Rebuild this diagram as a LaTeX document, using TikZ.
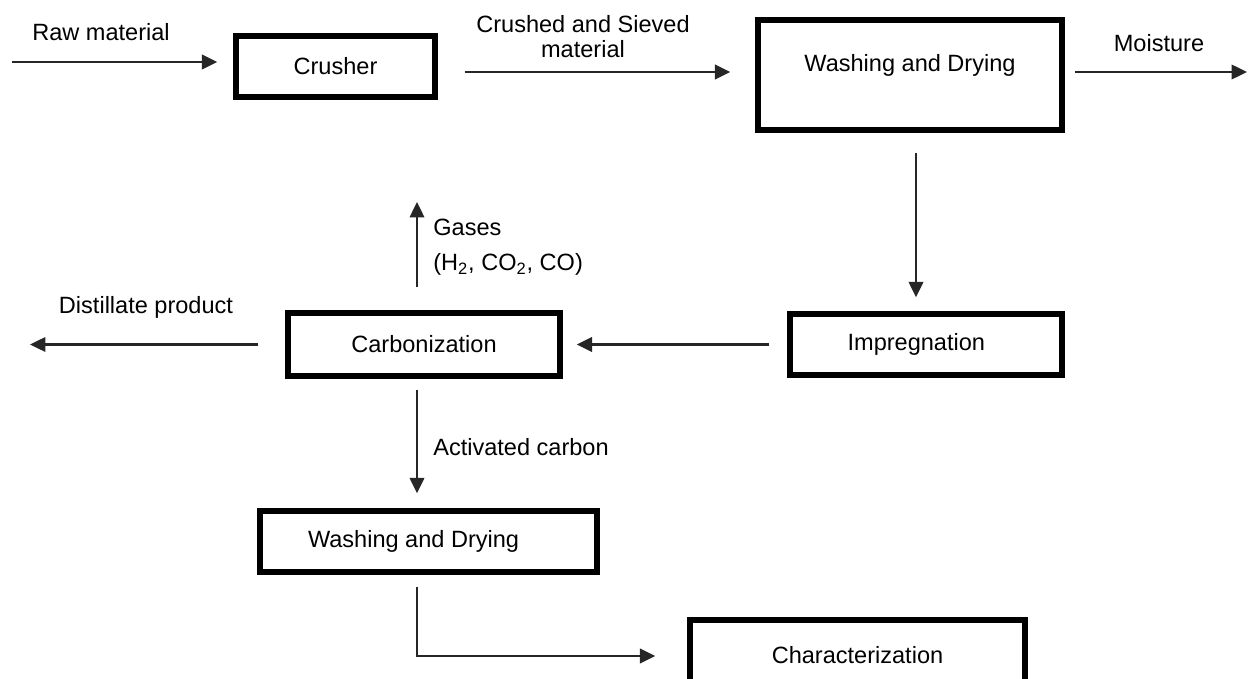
\documentclass[tikz,border=0pt]{standalone}
\usepackage{fontspec}
\setmainfont{Liberation Sans}
\usetikzlibrary{arrows.meta}

\begin{document}
\begin{tikzpicture}[x=0.02cm,y=-0.02cm,>={Triangle[length=0.31cm,width=0.29cm]},
    box/.style={shape=rectangle,draw,line width=3.1pt,inner sep=0pt,font=\fontsize{13.4}{16}\selectfont},
    flow/.style={->,draw=black!85,line width=1.4pt},
    lbl/.style={inner sep=0pt,font=\fontsize{13.4}{14.2}\selectfont},]
    \useasboundingbox (0,0) rectangle (1249,679);
    \clip (0,0) rectangle (1249,679);
		    % create the nodes
			    \node[box,minimum width=3.98cm,minimum height=1.22cm] (crusher) at (335.5,66.5) {Crusher};
			    \node[box,minimum width=6.08cm,minimum height=2.2cm,text depth=14pt] (wash1) at (910,75) {Washing and Drying}; %first wash
			    \node[box,minimum width=5.44cm,minimum height=1.22cm] (impreg) at (926,344.5) {Impregnation\hspace*{11pt}};
			    \node[box,minimum width=5.44cm,minimum height=1.26cm] (carbon) at (424,344.5) {Carbonization};
			    \node[box,minimum width=6.74cm,minimum height=1.22cm] (wash2) at (428.5,541.5) {Washing and Drying\hspace*{17pt}}; %second wash
			    \node[box,minimum width=6.7cm,minimum height=1.4cm] (charact) at (857.5,655) {Characterization};
		    % the labels
			    \node[lbl] (rawlbl) at (101,32) {Raw material};
			    \node[lbl,align=center] (crushlbl) at (583,37) {Crushed and Sieved\\material};
			    \node[lbl] (moistlbl) at (1159,43) {Moisture};
			    \node[lbl,align=left,anchor=west] (gaslbl) at (433,247) {Gases\\[6pt](H\textsubscript{2}, CO\textsubscript{2}, CO)};
			    \node[lbl] (distlbl) at (146,307) {Distillate product};
			    \node[lbl] (actlbl) at (521,447) {Activated carbon};
		    % free ends and bends
			    \coordinate (rawin) at (12,62);
			    \coordinate (midrow) at (0,72);
			    \coordinate (moistout) at (1247,72);
			    \coordinate (col) at (916,0);
			    \coordinate (gasout) at (417,202);
			    \coordinate (distout) at (30,344.5);
			    \coordinate (bend) at (417,656);
		    % connect them
			    \draw[flow,shorten >=0.32cm] (rawin) -- (rawin -| crusher.west);
			    \draw[flow,shorten <=0.54cm,shorten >=0.5cm] (crusher.east |- midrow) -- (wash1.west |- midrow);
			    \draw[flow,shorten <=0.2cm] (wash1.east |- midrow) -- (moistout);
			    \draw[flow,shorten <=0.4cm,shorten >=0.28cm] (col |- wash1.south) -- (col |- impreg.north);
			    \draw[flow,shorten <=0.36cm,shorten >=0.28cm] (impreg.west) -- (carbon.east);
			    \draw[flow,shorten <=0.54cm] (carbon.west) -- (distout);
			    \draw[flow,shorten <=0.46cm] (gasout |- carbon.north) -- (gasout);
			    \draw[flow,shorten <=0.22cm,shorten >=0.3cm] (gasout |- carbon.south) -- (gasout |- wash2.north); %activated carbon
			    \draw[flow,shorten <=0.24cm,shorten >=0.64cm] (bend |- wash2.south) -- (bend) -- (bend -| charact.west);
			\end{tikzpicture}
\end{document}
